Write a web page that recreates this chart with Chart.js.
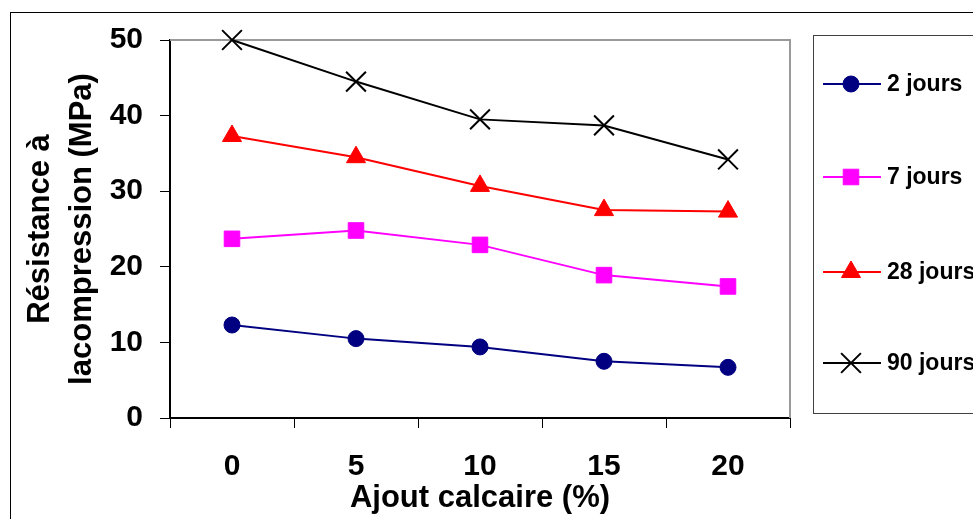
<!DOCTYPE html>
<html lang="fr">
<head>
<meta charset="utf-8">
<title>Résistance à la compression</title>
<script src="https://cdn.jsdelivr.net/npm/chart.js@4/dist/chart.umd.min.js"></script>
<style>
  html, body { margin: 0; padding: 0; background: #fff; }
  #wrap { position: relative; width: 973px; height: 519px; }
</style>
</head>
<body>
<div id="wrap"><canvas id="chart"></canvas></div>
<script>
// Résistance à la compression selon l'ajout calcaire et l'âge
const ajouts = ['0', '5', '10', '15', '20'];
const jours2 = [12.3, 10.5, 9.4, 7.5, 6.7];
const jours7 = [23.7, 24.8, 22.9, 18.9, 17.4];
const jours28 = [37.3, 34.5, 30.7, 27.5, 27.3];
const jours90 = [50.0, 44.5, 39.5, 38.7, 34.2];
const yTicks = [0, 10, 20, 30, 40, 50];

const FONT = 'Arial, "Liberation Sans", sans-serif';

function serie(label, data, color, style, radius, bw) {
  return {
    label, data,
    borderColor: color,
    backgroundColor: color,
    borderWidth: 2,
    pointStyle: style,
    pointRadius: radius,
    pointBorderWidth: bw,
    pointBackgroundColor: color,
    pointBorderColor: color,
    tension: 0,
    clip: false
  };
}

// cadre extérieur + bordure grise de la zone de tracé
const cadre = {
  id: 'cadre',
  beforeDraw(chart) {
    const ctx = chart.ctx;
    ctx.save();
    ctx.fillStyle = '#fff';
    ctx.fillRect(0, 0, chart.width, chart.height);
    ctx.strokeStyle = '#000';
    ctx.lineWidth = 1;
    ctx.strokeRect(10.5, 12.5, 1200, 1200);
    ctx.restore();
  },
  beforeDatasetsDraw(chart) {
    const { ctx, chartArea: a } = chart;
    ctx.save();
    ctx.strokeStyle = '#9a9a9a';
    ctx.lineWidth = 2;
    ctx.beginPath();
    ctx.moveTo(a.left, a.top);
    ctx.lineTo(a.right, a.top);
    ctx.lineTo(a.right, a.bottom);
    ctx.stroke();
    ctx.restore();
  }
};

// légende encadrée à droite
const legende = {
  id: 'legende',
  afterDraw(chart) {
    const ctx = chart.ctx;
    const rows = [84, 177, 272, 363];
    ctx.save();
    ctx.strokeStyle = '#404040';
    ctx.lineWidth = 1;
    ctx.strokeRect(813.5, 35.5, 300, 378);
    chart.data.datasets.forEach((ds, i) => {
      const y = rows[i];
      ctx.strokeStyle = ds.borderColor;
      ctx.lineWidth = 2;
      ctx.beginPath();
      ctx.moveTo(823, y);
      ctx.lineTo(881, y);
      ctx.stroke();
      ctx.fillStyle = ds.pointBackgroundColor;
      ctx.strokeStyle = ds.pointBorderColor;
      ctx.lineWidth = ds.pointBorderWidth;
      Chart.helpers.drawPoint(ctx, {
        pointStyle: ds.pointStyle,
        radius: ds.pointRadius,
        rotation: 0,
        borderWidth: ds.pointBorderWidth
      }, 851, y);
      ctx.fillStyle = '#000';
      ctx.font = 'bold 23px ' + FONT;
      ctx.textAlign = 'left';
      ctx.textBaseline = 'middle';
      ctx.fillText(ds.label, 887, y + 1);
    });
    ctx.restore();
  }
};

new Chart(document.getElementById('chart'), {
  type: 'line',
  data: {
    labels: ajouts,
    datasets: [
      serie('2 jours', jours2, '#000080', 'circle', 8, 1),
      serie('7 jours', jours7, '#ff00ff', 'rect', 11, 1),
      serie('28 jours', jours28, '#ff0000', 'triangle', 11, 1),
      serie('90 jours', jours90, '#000000', 'crossRot', 14, 2)
    ]
  },
  options: {
    responsive: true,
    maintainAspectRatio: false,
    animation: false,
    events: [],
    layout: { padding: { left: 0, top: 40, right: 183, bottom: 0 } },
    plugins: {
      legend: { display: false },
      tooltip: { enabled: false }
    },
    scales: {
      x: {
        type: 'category',
        offset: true,
        afterFit: s => { s.height = 101; },
        grid: { offset: true, drawOnChartArea: false, drawTicks: true, tickLength: 10, color: '#000', lineWidth: 1 },
        border: { display: true, color: '#000', width: 2 },
        ticks: { color: '#000', padding: 21, maxRotation: 0, font: { family: FONT, size: 30, weight: 'bold', lineHeight: 1.2 } },
        title: {
          display: true,
          text: 'Ajout calcaire (%)',
          color: '#000',
          padding: { top: 0, bottom: 2 },
          font: { family: FONT, size: 31, weight: 'bold', lineHeight: 1.2 }
        }
      },
      y: {
        min: 0,
        max: 50,
        afterFit: s => { s.width = 170; },
        afterBuildTicks: s => { s.ticks = yTicks.map(v => ({ value: v })); },
        grid: { drawOnChartArea: false, drawTicks: true, tickLength: 10, color: '#000', lineWidth: 1 },
        border: { display: true, color: '#000', width: 2 },
        ticks: { color: '#000', padding: 17, font: { family: FONT, size: 30, weight: 'bold', lineHeight: 1.2 } },
        title: {
          display: true,
          text: ['Résistance à', 'lacompression (MPa)'],
          color: '#000',
          padding: { top: 19, bottom: 0 },
          font: { family: FONT, size: 31, weight: 'bold', lineHeight: 1.355 }
        }
      }
    }
  },
  plugins: [cadre, legende]
});
</script>
</body>
</html>
